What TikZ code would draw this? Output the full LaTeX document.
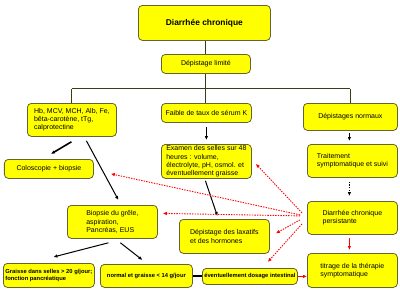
\documentclass[tikz,border=0pt]{standalone}
\usepackage{fontspec}
\setmainfont{Liberation Sans}
\usetikzlibrary{arrows.meta,calc}
\definecolor{boxfill}{RGB}{255,255,0}
\definecolor{boxline}{RGB}{100,100,50}
\definecolor{trunkcol}{RGB}{60,60,20}
\begin{document}
\begin{tikzpicture}[x=1pt,y=-1pt,
  box/.style={draw=boxline, fill=boxfill, line width=0.8pt, rounded corners=4pt,
    anchor=north west, align=left, inner sep=0pt, font=\fontsize{7}{8.2}\selectfont},
  smalltext/.style={font=\fontsize{5.8}{6.8}\selectfont\bfseries},
  trunk/.style={draw=trunkcol, line width=0.9pt},
  blk/.style={draw=black, line width=1pt, -{Latex[length=4pt,width=3.5pt]}},
  thickblk/.style={blk, line width=1.6pt},
  reddot/.style={draw=red, line width=0.9pt, dash pattern=on 1.4pt off 1.2pt, -{Latex[length=4pt,width=3.5pt]}},
  redarr/.style={draw=red, line width=0.9pt, -{Latex[length=4pt,width=3.5pt]}}]
\useasboundingbox (0,0) rectangle (400,290);

\node[box, minimum width=132, minimum height=35, font=\fontsize{8.4}{10}\selectfont\bfseries, align=center] (n1) at (138,5) {Diarrhée chronique};
\node[box, minimum width=89, minimum height=19, align=center] (n2) at (161,54) {Dépistage limité};
\node[box, minimum width=89, minimum height=33] (n3) at (27,103) {Hb, MCV, MCH, Alb, Fe,\\bêta-carotène, tTg,\\calprotectine};
\node[box, minimum width=90, minimum height=19] (n4) at (161,103) {Faible de taux de sérum K};
\node[box, minimum width=94, minimum height=27, align=center] (n5) at (303,103) {Dépistages normaux};
\node[box, minimum width=89, minimum height=19, align=center] (n6) at (4,159) {Coloscopie + biopsie};
\node[box, minimum width=90, minimum height=34] (n7) at (161,144) {Examen des selles sur 48\\heures : volume,\\électrolyte, pH, osmol. et\\éventuellement graisse};
\node[box, minimum width=90, minimum height=33] (n8) at (307,144) {Traitement\\symptomatique et suivi};
\node[box, minimum width=90, minimum height=33] (n9) at (67,205) {Biopsie du grêle,\\aspiration,\\Pancréas, EUS};
\node[box, minimum width=90, minimum height=34] (n10) at (179,219) {Dépistage des laxatifs\\et des hormones};
\node[box, minimum width=90, minimum height=33] (n11) at (307,201) {Diarrhée chronique\\persistante};
\node[box, smalltext, minimum width=91, minimum height=24] (n12) at (3,263) {Graisse dans selles > 20 g/jour;\\fonction pancréatique};
\node[box, smalltext, minimum width=92, minimum height=23, align=center] (n13) at (100,264) {normal et graisse < 14 g/jour};
\node[box, smalltext, minimum width=95, minimum height=16, align=center] (n14) at (202,268) {éventuellement dosage intestinal};
\node[box, minimum width=90, minimum height=34] (n15) at (307,253) {titrage de la thérapie\\symptomatique};

% trunk
\coordinate (hub) at ($(n2.south)+(0,15)$);
\draw[trunk] (n1.south -| n2.north) -- (n2.north);
\draw[trunk] (n2.south) -- (n2.south |- n4.north);
\draw[trunk] (n3.north |- hub) -- (n5.north |- hub);
\draw[trunk] (n3.north |- hub) -- (n3.north);
\draw[trunk] (n5.north |- hub) -- (n5.north);

% black connectors
\draw[thickblk] ($(n3.south)+(-0.5,5)$) -- ($(n6.north)+(2,-5)$);
\draw[blk] ($(n3.south)+(14.5,4)$) -- ($(n9.north)+(6,-5)$);
\draw[thickblk] ($(n4.south)+(0,4)$) -- ($(n7.north)+(0,-4)$);
\draw[blk] ($(n7.south)+(-1,2)$) -- ($(n10.north)+(-7,-3)$);
\draw[thickblk] ($(n5.south)+(-1,2)$) -- ($(n8.north)+(-3,-3)$);
\draw[blk, dash pattern=on 1.4pt off 1.2pt] ($(n8.south)+(-3,4)$) -- ($(n11.north)+(-3,-5)$);
\draw[blk] ($(n9.south)+(-4,4)$) -- ($(n12.north)+(4.5,-6)$);
\draw[blk] ($(n9.south)+(8,4)$) -- ($(n13.north)+(-4,-4)$);
\draw[trunk, draw=black, line width=1.8pt] (n13.east) -- (n13.east -| n14.west);

% red connectors
\draw[redarr] (n14.east) -- (n14.east -| n15.west);
\draw[redarr] ($(n11.south)+(-3,3)$) -- ($(n15.north)+(-3,-3)$);
\draw[reddot] ($(n11.west)+(-5,-5)$) -- ($(n7.south east)+(4,-15)$);
\draw[reddot] ($(n11.west)+(-7,-3)$) -- ($(n6.south east)+(17,-5)$);
\draw[reddot] ($(n11.west)+(-7,-2)$) -- ($(n9.east)+(5,-8.5)$);
\draw[reddot] ($(n11.west)+(-7,2)$) -- ($(n10.east)+(6,-3)$);
\draw[reddot] ($(n11.west)+(-5,6)$) -- ($(n14.north east)+(-30,-6)$);
\end{tikzpicture}
\end{document}
